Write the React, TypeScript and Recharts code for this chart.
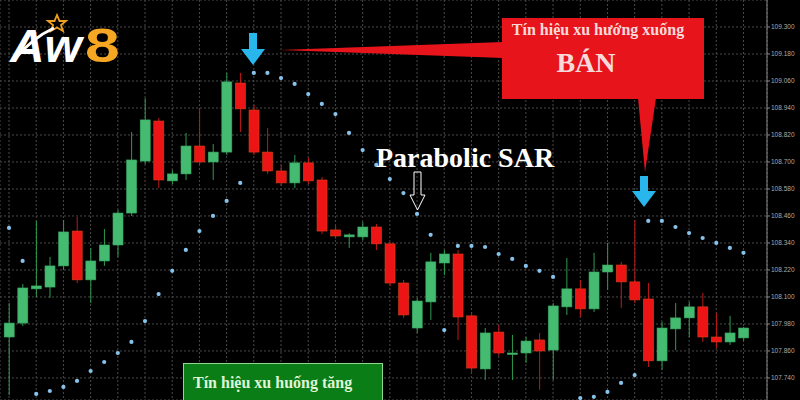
import { Bar, CartesianGrid, ComposedChart, Scatter, XAxis, YAxis } from 'recharts'

// candle values (index = candle number)
const opens = [
  107.922, 107.984, 108.136, 108.144, 108.238, 108.393, 108.176, 108.26, 108.331, 108.473,
  108.704, 108.882, 108.616, 108.647, 108.771, 108.7, 108.744, 109.051, 108.931, 108.744,
  108.66, 108.607, 108.696, 108.62, 108.398, 108.367, 108.367, 108.411, 108.336, 108.162,
  107.962, 108.078, 108.251, 108.291, 108.016, 107.78, 107.944, 107.847, 107.851, 107.909,
  107.864, 108.056, 108.136, 108.047, 108.211, 108.242, 108.167, 108.091, 107.816, 107.958,
  108.007, 108.056, 107.922, 107.9, 107.918,
]
const highs = [
  108.073, 108.158, 108.438, 108.278, 108.442, 108.456, 108.318, 108.402, 108.487, 108.833,
  108.984, 108.896, 108.664, 108.829, 108.94, 108.78, 109.096, 109.096, 108.953, 108.851,
  108.687, 108.731, 108.718, 108.633, 108.416, 108.384, 108.433, 108.424, 108.344, 108.176,
  108.096, 108.296, 108.309, 108.309, 108.033, 107.962, 107.976, 107.931, 107.922, 107.94,
  108.073, 108.273, 108.176, 108.296, 108.34, 108.256, 108.442, 108.162, 107.989, 108.073,
  108.078, 108.118, 108.029, 108.016, 107.967,
]
const lows = [
  107.664, 107.971, 108.1, 108.096, 108.22, 108.162, 108.073, 108.238, 108.278, 108.46,
  108.691, 108.584, 108.602, 108.62, 108.687, 108.62, 108.731, 108.833, 108.731, 108.647,
  108.593, 108.584, 108.602, 108.38, 108.358, 108.318, 108.353, 108.309, 108.149, 108.007,
  107.94, 107.998, 108.198, 107.909, 107.767, 107.731, 107.838, 107.731, 107.807, 107.687,
  107.731, 108.02, 108.011, 108.033, 108.131, 108.051, 108.073, 107.789, 107.776, 107.864,
  107.922, 107.9, 107.873, 107.887, 107.904,
]
const closes = [
  107.984, 108.14, 108.149, 108.238, 108.389, 108.176, 108.26, 108.331, 108.473, 108.709,
  108.887, 108.62, 108.647, 108.771, 108.7, 108.744, 109.056, 108.936, 108.744, 108.66,
  108.607, 108.696, 108.616, 108.393, 108.371, 108.376, 108.411, 108.336, 108.162, 108.02,
  108.082, 108.256, 108.291, 108.011, 107.784, 107.94, 107.851, 107.851, 107.904, 107.86,
  108.06, 108.136, 108.047, 108.211, 108.242, 108.167, 108.087, 107.816, 107.962, 108.007,
  108.056, 107.922, 107.9, 107.94, 107.962,
]
// parabolic SAR dots (null = off the picture)
const sar = [
  108.407, 108.26, 107.669, 107.682, 107.7, 107.727, 107.771, 107.811, 107.851, 107.9,
  107.993, 108.113, 108.216, 108.309, 108.393, 108.46, 108.527, 108.607, 109.096, 109.096,
  109.073, 109.047, 109.002, 108.958, 108.913, 108.829, 108.753, 108.687, 108.624, 108.562,
  108.469, 108.376, 107.953, 108.327, 108.327, 108.322, 108.291, 108.269, 108.238, 108.216,
  108.189, null, 107.651, 107.656, 107.678, 107.718, 107.753, 108.438, 108.438, 108.411,
  108.384, 108.362, 108.34, 108.318, 108.296,
]
const priceTicks = [
  109.42, 109.3, 109.18, 109.06, 108.94, 108.82, 108.7, 108.58, 108.46, 108.34, 108.22, 108.1,
  107.98, 107.86, 107.74,
]
const gridTicks = opens.map((_, i) => i).filter(i => i % 2 === 0)

const GREEN = '#45bb72'
const RED = '#ec1414'

const candles = opens.map((open, i) => ({
  i,
  open,
  high: highs[i],
  low: lows[i],
  close: closes[i],
  range: [lows[i], highs[i]],
}))
const sarPoints = sar.map((v, i) => ({ i, sar: v })).filter(p => p.sar !== null)

function Candle(props: any) {
  const { x, y, width, height, payload } = props
  const top = Math.min(y, y + height)
  const h = Math.abs(height)
  const k = h / (payload.high - payload.low || 1)
  const yOf = (v: number) => top + (payload.high - v) * k
  const up = payload.close >= payload.open
  const bodyTop = yOf(Math.max(payload.open, payload.close))
  const bodyBot = yOf(Math.min(payload.open, payload.close))
  const cx = x + width / 2
  return (
    <g>
      <line x1={cx} x2={cx} y1={top} y2={top + h} stroke={up ? '#2f9a4e' : '#c01818'} strokeWidth={1} />
      <rect
        x={x}
        y={bodyTop}
        width={width}
        height={Math.max(bodyBot - bodyTop, 1.5)}
        fill={up ? GREEN : RED}
        stroke={up ? '#3aa862' : '#d8431a'}
        strokeWidth={0.6}
      />
    </g>
  )
}

const Dot = (props: any) => <circle cx={props.cx} cy={props.cy} r={2.1} fill="#86c2ea" />

function Overlay() {
  return (
    <svg width={800} height={400} style={{ position: 'absolute', left: 0, top: 0, pointerEvents: 'none' }}>
      {/* logo */}
      <text
        transform="translate(10,62) scale(1.04,1)"
        fontFamily="Liberation Sans"
        fontWeight={900}
        fontStyle="italic"
        fontSize={46}
        fill="#fff"
      >
        Aw
      </text>
      <text transform="translate(85,62) scale(1.3,1)" fontFamily="Liberation Sans" fontWeight={900} fontSize={48} fill="#f5a623">
        8
      </text>
      <polygon
        points="57,15 59.5,21 66,21 61,25 63,31 57,27.5 51,31 53,25 48,21 54.5,21"
        fill="none"
        stroke="#f0a020"
        strokeWidth={1.8}
      />
      <path d="M14,60 Q32,38 54,28" stroke="#fff" strokeWidth={3} fill="none" />

      {/* blue arrows */}
      <polygon points="249,33 257,33 257,49 265,49 253,65 241,49 249,49" fill="#29b6ec" />
      <polygon points="640,176 648,176 648,191 656,191 644,207 632,191 640,191" fill="#29b6ec" />

      {/* red callout */}
      <polygon points="280,50 503,42 503,58" fill="#e8141c" />
      <rect x={502} y={18} width={202} height={81} fill="#e8141c" />
      <polygon points="638,98 656,98 645,172" fill="#e8141c" />
      <text x={598} y={35} textAnchor="middle" fontFamily="Liberation Serif" fontWeight={700} fontSize={16} fill="#f8dada">
        Tín hiệu xu hướng xuống
      </text>
      <text x={586} y={72} textAnchor="middle" fontFamily="Liberation Serif" fontWeight={700} fontSize={28} fill="#f8dada">
        BÁN
      </text>

      {/* Parabolic SAR label */}
      <text x={376} y={167} fontFamily="Liberation Serif" fontWeight={700} fontSize={28} fill="#fff">
        Parabolic SAR
      </text>
      <polygon points="414,172 421,172 421,195 425,195 417.5,210 410,195 414,195" fill="none" stroke="#fff" strokeWidth={1} />

      {/* green box */}
      <rect x={183.5} y={363.5} width={199} height={40} fill="#0b7d17" stroke="#8fd88f" strokeWidth={1} />
      <text x={193} y={388} fontFamily="Liberation Serif" fontWeight={700} fontSize={16} fill="#dff5d6">
        Tín hiệu xu huống tăng
      </text>
    </svg>
  )
}

export default function App() {
  return (
    <div style={{ position: 'fixed', left: 0, top: 0, width: 800, height: 400, background: '#000' }}>
      <ComposedChart width={800} height={400} data={candles} margin={{ top: 0, right: 0, bottom: 0, left: 0 }}>
        <CartesianGrid stroke="#4a4a4a" strokeDasharray="2 2" />
        <XAxis dataKey="i" type="number" domain={[-0.662, 55.73]} ticks={gridTicks} allowDataOverflow hide />
        <YAxis
          orientation="right"
          width={33}
          domain={[107.642, 109.42]}
          ticks={priceTicks}
          allowDataOverflow
          axisLine={{ stroke: '#888' }}
          tickLine={{ stroke: '#888' }}
          tickSize={3}
          tickMargin={1}
          tick={{ fill: '#aaa', fontSize: 6.5, fontFamily: 'Liberation Sans' }}
          tickFormatter={(v: number) => v.toFixed(3)}
        />
        <Bar dataKey="range" barSize={10} shape={Candle} isAnimationActive={false} />
        <Scatter data={sarPoints} dataKey="sar" shape={Dot} isAnimationActive={false} />
      </ComposedChart>
      <Overlay />
    </div>
  )
}
